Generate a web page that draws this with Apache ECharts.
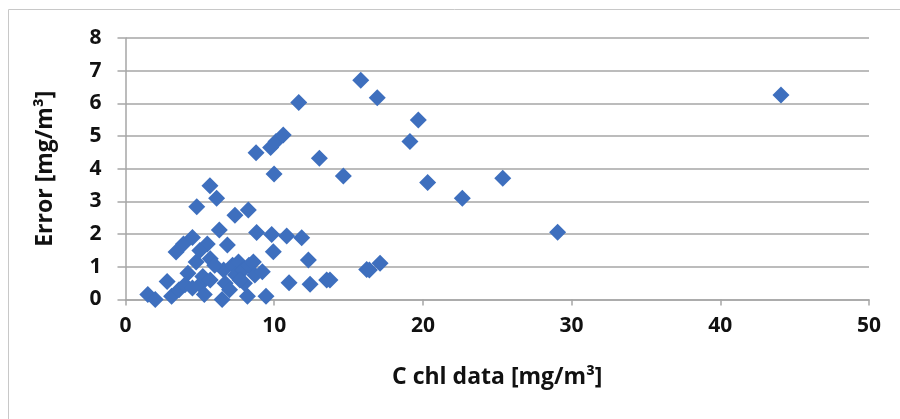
<!DOCTYPE html>
<html><head><meta charset="utf-8">
<script src="https://cdn.jsdelivr.net/npm/echarts@6/dist/echarts.min.js"></script>
<style>html,body{margin:0;padding:0;background:#fff}#c{width:900px;height:419px}</style>
</head><body><div id="c"></div>
<script>
const chlData = [1.5,2.0,2.8,3.1,3.6,3.4,3.9,4.5,4.2,4.75,5.0,5.3,5.2,5.5,5.7,5.0,4.0,4.5,5.7,6.5,6.7,6.85,6.6,7.2,7.6,7.4,7.9,8.0,8.2,8.3,8.6,8.7,9.2,9.45,9.94,6.0,7.7,7.0,
  4.79,5.68,6.13,6.31,7.36,8.26,8.82,9.83,10.84,11.85,12.3,11.0,12.41,13.53,13.75,16.22,16.4,17.12,
  8.78,9.76,10.12,10.61,9.99,11.65,13.04,14.65,15.82,16.93,19.13,19.69,20.32,22.65,25.37,29.06,44.08];
const errData = [0.15,0.0,0.55,0.1,0.3,1.45,1.7,1.9,0.8,1.15,0.45,0.15,0.7,1.7,1.25,1.5,0.45,0.35,0.6,0.0,0.5,1.67,0.9,1.05,1.15,0.75,0.9,0.5,0.1,1.05,1.15,0.75,0.85,0.1,1.46,1.05,0.6,0.3,
  2.84,3.48,3.1,2.13,2.58,2.74,2.05,1.99,1.94,1.89,1.21,0.51,0.47,0.6,0.6,0.92,0.9,1.11,
  4.49,4.65,4.83,5.03,3.84,6.03,4.32,3.78,6.71,6.17,4.83,5.49,3.58,3.1,3.71,2.06,6.26];
const xTicks = [0,10,20,30,40,50];
const yTicks = [0,1,2,3,4,5,6,7,8];
const xTitle = 'C chl data [mg/m³]';
const yTitle = 'Error [mg/m³]';

const pts = chlData.map((x,i)=>[x, errData[i]]);
const font = "'Open Sans',sans-serif";
const chart = echarts.init(document.getElementById('c'), null, {renderer:'canvas'});
chart.setOption({
  animation:false,
  graphic:[{type:'rect', shape:{x:8.5,y:9.5,width:900,height:420}, style:{fill:'none', stroke:'#c8c8c8', lineWidth:1}}],
  grid:{left:125.5, right:31, top:38, bottom:119.5},
  xAxis:{type:'value', min:xTicks[0], max:xTicks[xTicks.length-1], interval:10,
    axisLine:{show:true, lineStyle:{color:'#a6a6a6', width:1.5}},
    axisTick:{show:true, length:6, lineStyle:{color:'#a6a6a6', width:1.5}},
    splitLine:{show:false},
    axisLabel:{color:'#111', fontSize:21, fontWeight:'bold', fontFamily:font, margin:16},
    name:xTitle, nameLocation:'middle', nameGap:66,
    nameTextStyle:{color:'#111', fontSize:23, fontWeight:'bold', fontFamily:font}},
  yAxis:{type:'value', min:yTicks[0], max:yTicks[yTicks.length-1], interval:1,
    axisLine:{show:true, lineStyle:{color:'#a6a6a6', width:1.5}},
    axisTick:{show:true, length:8, lineStyle:{color:'#a6a6a6', width:1.5}},
    splitLine:{show:true, lineStyle:{color:'#a6a6a6', width:1.5}},
    axisLabel:{color:'#111', fontSize:21, fontWeight:'bold', fontFamily:font, margin:24},
    name:yTitle, nameLocation:'middle', nameGap:69,
    nameTextStyle:{color:'#111', fontSize:23, fontWeight:'bold', fontFamily:font}},
  series:[{type:'scatter', data:pts, symbol:'diamond', symbolSize:[17,17],
    itemStyle:{color:'#3e6fbe', opacity:1}}]
});
</script></body></html>
